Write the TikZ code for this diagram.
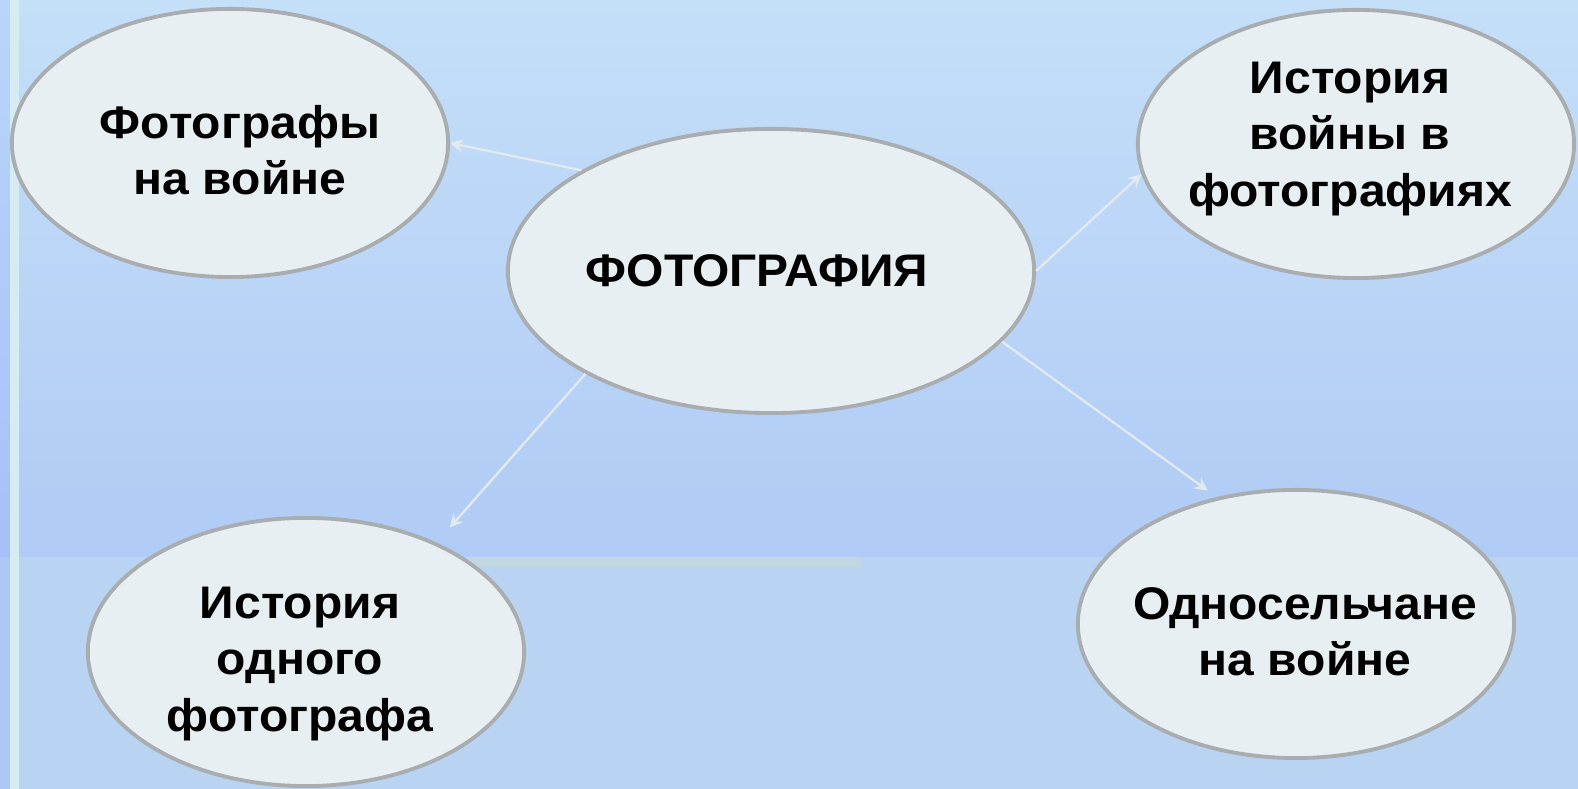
\documentclass[tikz,border=0pt]{standalone}
\usepackage{fontspec}
\setmainfont{Liberation Sans}[FakeStretch=1.05]
\usepackage{tikz}
\usetikzlibrary{shapes.geometric, arrows}
\definecolor{bgtop}{HTML}{C4DFF8}
\definecolor{bgmid}{HTML}{B0CBF5}
\definecolor{bgband}{HTML}{B9D4F2}
\definecolor{stripdarktop}{HTML}{B8D6FA}
\definecolor{stripdark}{HTML}{A6C0F8}
\definecolor{strippale}{HTML}{D6ECF3}
\definecolor{barcol}{HTML}{C0D6E0}
\definecolor{bubblefill}{HTML}{E8EFF3}
\definecolor{bubbleline}{HTML}{A9ADB0}
\definecolor{linkcol}{HTML}{E2E9EF}
\tikzstyle{bubble} = [ellipse, minimum width=4.36cm, minimum height=2.68cm, inner sep=0pt, draw=bubbleline, line width=1.1pt, fill=bubblefill]
\tikzstyle{hub} = [bubble, minimum width=5.26cm, minimum height=2.84cm]
\tikzstyle{caption} = [align=center, inner sep=0pt, font=\fontsize{13}{16}\selectfont\bfseries]
\tikzstyle{arrow} = [line width=0.65pt, draw=linkcol, ->, >=stealth]

\begin{document}
\begin{tikzpicture}[x=0.01cm, y=-0.01cm]
\useasboundingbox (0,0) rectangle (1578,789);
% background
\shade [top color=bgtop, bottom color=bgmid] (0,0) rectangle (1578,557);
\fill [bgband] (0,557) rectangle (1578,789);
\shade [top color=stripdarktop, bottom color=stripdark] (0,0) rectangle (10,557);
\fill [stripdark!60!bgband] (0,557) rectangle (10,789);
\fill [strippale] (10,0) rectangle (19,789);
\fill [barcol] (300,557) rectangle (861,567);

\node (photo) [hub] at (771,271) {};
\node (warphoto) [bubble] at (230,143) {};
\node (history) [bubble] at (1356,144) {};
\node (onephoto) [bubble] at (306,652) {};
\node (villagers) [bubble] at (1296,624) {};

\node (photoText) [caption] at ([shift={(-14,0)}]photo) {ФОТОГРАФИЯ};
\node (warphotoText) [caption] at ([shift={(10,7)}]warphoto) {Фотографы\\на войне};
\node (historyText) [caption] at ([shift={(-6,-5)}]history) {История\\войны в\\фотографиях};
\node (onephotoText) [caption] at ([shift={(-6,12)}]onephoto) {История\\одного\\фотографа};
\node (villagersText) [caption] at ([shift={(9,8)}]villagers) {Односельчане\\на войне};

\draw [arrow] (photo.152) -- (warphoto.east);
\draw [arrow] (photo.east) -- (history.188);
\draw [arrow, shorten >=0.2cm] (photo.209) -- (onephoto.40);
\draw [arrow, shorten >=0.11cm] (photo.343) -- (villagers.122);
\end{tikzpicture}
\end{document}
